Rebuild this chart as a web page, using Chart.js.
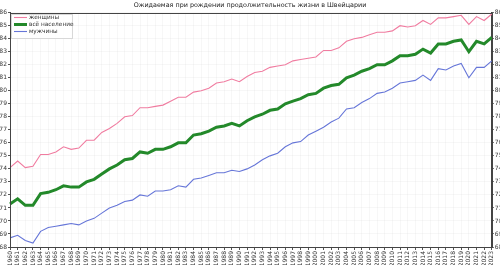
<!DOCTYPE html>
<html lang="ru">
<head>
<meta charset="UTF-8">
<title>Ожидаемая продолжительность жизни в Швейцарии</title>
<script src="https://cdn.jsdelivr.net/npm/chart.js"></script>
<style>
  html, body { margin: 0; padding: 0; background: #ffffff; }
  #wrap { width: 500px; height: 265px; }
</style>
</head>
<body>
<div id="wrap"><canvas id="myChart"></canvas></div>
<script>
  // годы
  const years = [];
  for (let y = 1960; y <= 2023; y++) years.push(String(y));

  const women = [74.1, 74.6, 74.1, 74.2, 75.1, 75.1, 75.3, 75.7, 75.5, 75.6,
    76.2, 76.2, 76.8, 77.1, 77.5, 78.0, 78.1, 78.7, 78.7, 78.8,
    78.9, 79.2, 79.5, 79.5, 79.9, 80.0, 80.2, 80.6, 80.7, 80.9,
    80.7, 81.1, 81.4, 81.5, 81.8, 81.9, 82.0, 82.3, 82.4, 82.5,
    82.6, 83.1, 83.1, 83.3, 83.8, 84.0, 84.1, 84.3, 84.5, 84.5,
    84.6, 85.0, 84.9, 85.0, 85.4, 85.1, 85.6, 85.6, 85.7, 85.8,
    85.1, 85.7, 85.4, 85.9];

  const total = [71.3, 71.7, 71.2, 71.2, 72.1, 72.2, 72.4, 72.7, 72.6, 72.6,
    73.0, 73.2, 73.6, 74.0, 74.3, 74.7, 74.8, 75.3, 75.2, 75.5,
    75.5, 75.7, 76.0, 76.0, 76.6, 76.7, 76.9, 77.2, 77.3, 77.5,
    77.3, 77.7, 78.0, 78.2, 78.5, 78.6, 79.0, 79.2, 79.4, 79.7,
    79.8, 80.2, 80.4, 80.5, 81.0, 81.2, 81.5, 81.7, 82.0, 82.0,
    82.3, 82.7, 82.7, 82.8, 83.2, 82.9, 83.6, 83.6, 83.8, 83.9,
    83.0, 83.8, 83.6, 84.1];

  const men = [68.7, 68.9, 68.5, 68.3, 69.2, 69.5, 69.6, 69.7, 69.8, 69.7,
    70.0, 70.2, 70.6, 71.0, 71.2, 71.5, 71.6, 72.0, 71.9, 72.3,
    72.3, 72.4, 72.7, 72.6, 73.2, 73.3, 73.5, 73.7, 73.7, 73.9,
    73.8, 74.0, 74.3, 74.7, 75.0, 75.2, 75.7, 76.0, 76.1, 76.6,
    76.9, 77.2, 77.6, 77.9, 78.6, 78.7, 79.1, 79.4, 79.8, 79.9,
    80.2, 80.6, 80.7, 80.8, 81.2, 80.8, 81.7, 81.6, 81.9, 82.1,
    81.0, 81.8, 81.8, 82.3];

  const yMin = 68, yMax = 86;

  const font = "'DejaVu Sans', sans-serif";
  const textColor = '#333333';
  const gridColor = 'rgba(0,0,0,0.03)';

  // рамка вокруг области графика + легенда в левом верхнем углу
  const framePlugin = {
    id: 'frame',
    afterDraw(chart) {
      const ctx = chart.ctx;
      const a = chart.chartArea;
      ctx.save();
      ctx.strokeStyle = '#444444';
      ctx.lineWidth = 1;
      ctx.strokeRect(Math.round(a.left) + 0.5, Math.round(a.top) + 0.5,
        Math.round(a.right - a.left), Math.round(a.bottom - a.top));

      // легенда
      const x0 = Math.round(a.left) + 1, y0 = Math.round(a.top) + 1;
      const rowH = 7;
      const sets = chart.data.datasets;
      const w = 61, h = 3 + rowH * sets.length;
      ctx.fillStyle = 'rgba(255,255,255,0.85)';
      ctx.fillRect(x0, y0, w, h);
      ctx.strokeStyle = '#d8d8d8';
      ctx.strokeRect(x0 + 0.5, y0 + 0.5, w, h);
      ctx.font = '5.8px ' + font;
      ctx.textBaseline = 'middle';
      sets.forEach((ds, i) => {
        const yy = y0 + 3.5 + rowH * i;
        ctx.strokeStyle = ds.borderColor;
        ctx.lineWidth = ds.borderWidth;
        ctx.beginPath();
        ctx.moveTo(x0 + 3, yy);
        ctx.lineTo(x0 + 16, yy);
        ctx.stroke();
        ctx.fillStyle = textColor;
        ctx.fillText(ds.label, x0 + 18, yy);
      });
      ctx.restore();
    }
  };

  const ctx = document.getElementById('myChart').getContext('2d');
  const myChart = new Chart(ctx, {
    type: 'line',
    data: {
      labels: years,
      datasets: [
        { label: 'женщины', data: women, borderColor: '#f07ca0', backgroundColor: '#f07ca0', borderWidth: 1.1 },
        { label: 'всё население', data: total, borderColor: '#23892a', backgroundColor: '#23892a', borderWidth: 3 },
        { label: 'мужчины', data: men, borderColor: '#6676d8', backgroundColor: '#6676d8', borderWidth: 1.1 }
      ]
    },
    options: {
      responsive: true,
      maintainAspectRatio: false,
      animation: false,
      elements: { point: { radius: 0 }, line: { tension: 0 } },
      layout: { padding: { left: 0, right: 0, top: 0, bottom: 0 } },
      scales: {
        x: {
          grid: { color: gridColor, tickLength: 3, tickColor: '#555' },
          border: { color: '#444' },
          ticks: {
            autoSkip: false, maxRotation: 90, minRotation: 90,
            font: { family: font, size: 6 }, color: textColor, padding: 1
          },
          afterFit(scale) { scale.height = 18; }
        },
        y: {
          position: 'left',
          min: yMin, max: yMax,
          grid: { color: gridColor, tickLength: 2, tickColor: '#555' },
          border: { color: '#444' },
          ticks: { stepSize: 1, font: { family: font, size: 6 }, color: textColor, padding: 1 },
          afterFit(scale) { scale.width = 10; }
        },
        y2: {
          position: 'right',
          min: yMin, max: yMax,
          grid: { drawOnChartArea: false, tickLength: 2, tickColor: '#555' },
          border: { color: '#444' },
          ticks: { stepSize: 1, font: { family: font, size: 6 }, color: textColor, padding: 1 },
          afterFit(scale) { scale.width = 8; }
        }
      },
      plugins: {
        title: {
          display: true,
          text: 'Ожидаемая при рождении продолжительность жизни в Швейцарии',
          font: { family: font, size: 6.4, weight: 'normal' },
          color: '#222',
          padding: { top: 2, bottom: 3 }
        },
        legend: { display: false },
        tooltip: { enabled: false }
      }
    },
    plugins: [framePlugin]
  });
</script>
</body>
</html>
